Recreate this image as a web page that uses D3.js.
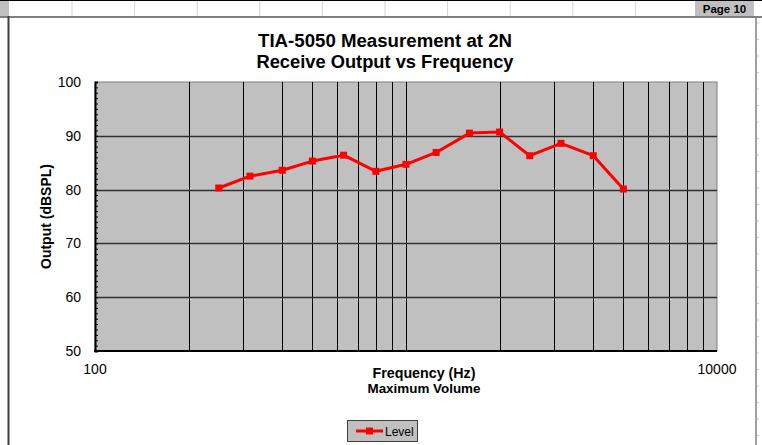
<!DOCTYPE html>
<html>
<head>
<meta charset="utf-8">
<script src="https://cdn.jsdelivr.net/npm/d3@7"></script>
<style>
  body { margin: 0; background: #fff; }
  svg { display: block; font-family: "Liberation Sans", Arial, sans-serif; }
</style>
</head>
<body>
<svg id="chart" width="762" height="445"></svg>
<script>
// 1/3 octave measurement points
var freqs = [250, 315, 400, 500, 630, 800, 1000, 1250, 1600, 2000, 2500, 3150, 4000, 5000];
var level = [80.3, 82.5, 83.6, 85.3, 86.4, 83.4, 84.7, 86.9, 90.5, 90.7, 86.3, 88.6, 86.3, 80.1];
var yTicks = [50, 60, 70, 80, 90, 100];
var xTickLabels = [100, 10000];
var seriesName = "Level";
var titleLines = ["TIA-5050 Measurement at 2N", "Receive Output vs Frequency"];

var svg = d3.select("#chart"),
    plot = {left: 95, right: 717, top: 82, bottom: 351};

var x = d3.scaleLog().domain([100, 10000]).range([plot.left, plot.right]);
var y = d3.scaleLinear().domain([50, 100]).range([plot.bottom, plot.top]);

// spreadsheet header strip
svg.append("rect").attr("x", 0).attr("y", 0).attr("width", 762).attr("height", 16).attr("fill", "#fff");
svg.append("rect").attr("x", 0).attr("y", 0).attr("width", 9).attr("height", 16).attr("fill", "#c0c0c0");
for (var i = 0; i < 10; i++) {
    svg.append("line")
        .attr("x1", 72 + i * 62.6).attr("x2", 72 + i * 62.6)
        .attr("y1", 0).attr("y2", 16)
        .attr("stroke", "#d4d4d4").attr("stroke-width", 1);
}
svg.append("line").attr("x1", 0).attr("x2", 762).attr("y1", 0.5).attr("y2", 0.5)
    .attr("stroke", "#000").attr("stroke-width", 1);
svg.append("rect").attr("x", 695).attr("y", 1).attr("width", 59).attr("height", 15).attr("fill", "#c0c0c0");
svg.append("text").attr("x", 724.5).attr("y", 13).attr("text-anchor", "middle")
    .attr("font-size", 11.5).attr("font-weight", "bold").text("Page 10");
svg.append("line").attr("x1", 0).attr("x2", 762).attr("y1", 17).attr("y2", 17)
    .attr("stroke", "#808080").attr("stroke-width", 2);

// frame left / right
svg.append("line").attr("x1", 8.5).attr("x2", 8.5).attr("y1", 16).attr("y2", 445)
    .attr("stroke", "#404040").attr("stroke-width", 2);
svg.append("line").attr("x1", 756).attr("x2", 756).attr("y1", 16).attr("y2", 445)
    .attr("stroke", "#808080").attr("stroke-width", 1.5);
for (var k = 0; k < 26; k++) {
    svg.append("line").attr("x1", 757).attr("x2", 759)
        .attr("y1", 23 + k * 16.5).attr("y2", 23 + k * 16.5)
        .attr("stroke", "#c8c8c8");
}

// title
svg.selectAll(".title")
    .data(titleLines)
    .enter().append("text")
    .attr("class", "title")
    .attr("x", 385)
    .attr("y", function (d, i) { return 47 + i * 21; })
    .attr("text-anchor", "middle")
    .attr("font-size", 18)
    .attr("font-weight", "bold")
    .attr("textLength", function (d, i) { return i === 0 ? 254 : 257; })
    .attr("lengthAdjust", "spacingAndGlyphs")
    .text(function (d) { return d; });

// plot background
svg.append("rect")
    .attr("x", plot.left).attr("y", plot.top)
    .attr("width", plot.right - plot.left).attr("height", plot.bottom - plot.top)
    .attr("fill", "#c0c0c0")
    .attr("stroke", "#808080").attr("stroke-width", 1);

// vertical grid (log minor)
var vgrid = x.ticks().filter(function (d) { return d > 100 && d < 10000; });
svg.append("g").selectAll("line")
    .data(vgrid)
    .enter().append("line")
    .attr("x1", function (d) { return Math.round(x(d)) + 0.5; })
    .attr("x2", function (d) { return Math.round(x(d)) + 0.5; })
    .attr("y1", plot.top).attr("y2", plot.bottom)
    .attr("stroke", "#000").attr("stroke-width", 1);

// horizontal grid
svg.append("g").selectAll("line")
    .data(yTicks.filter(function (d) { return d > 50 && d < 100; }))
    .enter().append("line")
    .attr("x1", plot.left).attr("x2", plot.right)
    .attr("y1", function (d) { return Math.round(y(d)) + 0.5; })
    .attr("y2", function (d) { return Math.round(y(d)) + 0.5; })
    .attr("stroke", "#303030").attr("stroke-width", 1.3);

// y axis with minor ticks pointing inwards
var yAxis = svg.append("g")
    .attr("transform", "translate(" + plot.left + ",0)")
    .call(d3.axisRight(y).tickValues(d3.range(50, 101, 1)).tickSize(3).tickFormat(""));
yAxis.select(".domain").attr("stroke", "#000").attr("stroke-width", 2);
yAxis.selectAll(".tick line").attr("stroke", "#000");

svg.append("g").selectAll("text")
    .data(yTicks)
    .enter().append("text")
    .attr("x", 81)
    .attr("y", function (d) { return y(d); })
    .attr("dy", "0.35em")
    .attr("text-anchor", "end")
    .attr("font-size", 14)
    .text(function (d) { return d; });

// x axis line
svg.append("line")
    .attr("x1", plot.left - 1).attr("x2", plot.right)
    .attr("y1", plot.bottom).attr("y2", plot.bottom)
    .attr("stroke", "#000").attr("stroke-width", 2);

svg.append("g").selectAll("text")
    .data(xTickLabels)
    .enter().append("text")
    .attr("x", function (d) { return x(d); })
    .attr("y", 374)
    .attr("text-anchor", "middle")
    .attr("font-size", 14)
    .text(function (d) { return d; });

// axis titles
svg.append("text")
    .attr("x", 424).attr("y", 378)
    .attr("text-anchor", "middle")
    .attr("font-size", 14).attr("font-weight", "bold")
    .attr("textLength", 103).attr("lengthAdjust", "spacingAndGlyphs")
    .text("Frequency (Hz)");
svg.append("text")
    .attr("x", 424).attr("y", 393)
    .attr("text-anchor", "middle")
    .attr("font-size", 13.5).attr("font-weight", "bold")
    .attr("textLength", 113).attr("lengthAdjust", "spacingAndGlyphs")
    .text("Maximum Volume");
svg.append("text")
    .attr("transform", "translate(51," + ((plot.top + plot.bottom) / 2) + ") rotate(-90)")
    .attr("text-anchor", "middle")
    .attr("font-size", 14).attr("font-weight", "bold")
    .text("Output (dBSPL)");

// series
var pts = freqs.map(function (f, i) { return {f: f, v: level[i]}; });
var line = d3.line()
    .x(function (d) { return x(d.f); })
    .y(function (d) { return y(d.v); });

svg.append("path")
    .datum(pts)
    .attr("d", line)
    .attr("fill", "none")
    .attr("stroke", "#ff0000")
    .attr("stroke-width", 3)
    .attr("stroke-linejoin", "round");

svg.append("g").selectAll("rect")
    .data(pts)
    .enter().append("rect")
    .attr("x", function (d) { return x(d.f) - 3.5; })
    .attr("y", function (d) { return y(d.v) - 3.5; })
    .attr("width", 7).attr("height", 7)
    .attr("fill", "#ff0000");

// legend
var legend = svg.append("g").attr("transform", "translate(347,420)");
legend.append("rect")
    .attr("x", 0.5).attr("y", 0.5).attr("width", 70).attr("height", 21)
    .attr("fill", "#c0c0c0").attr("stroke", "#404040");
legend.append("line")
    .attr("x1", 9).attr("x2", 36).attr("y1", 11).attr("y2", 11)
    .attr("stroke", "#ff0000").attr("stroke-width", 3);
legend.append("rect")
    .attr("x", 19).attr("y", 7.5).attr("width", 7).attr("height", 7)
    .attr("fill", "#ff0000");
legend.append("text")
    .attr("x", 38).attr("y", 15.5)
    .attr("font-size", 12)
    .text(seriesName);
</script>
</body>
</html>
